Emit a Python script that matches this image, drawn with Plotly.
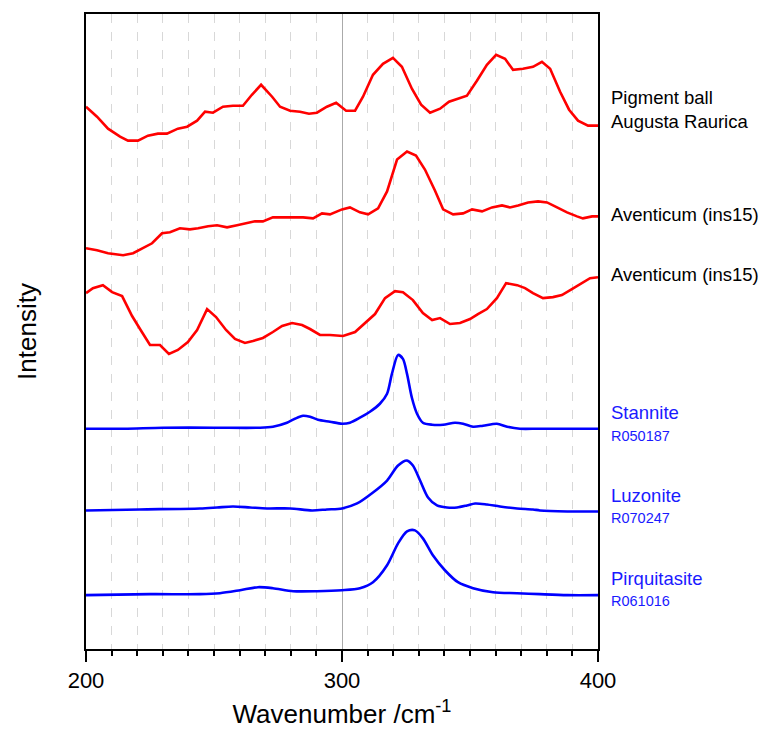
import plotly.graph_objects as go

# ---- Data (stacked intensity, arbitrary units) ----
pig_x = [200, 204.3, 208.6, 213.3, 216.4, 220.3, 224.2, 228.1, 231.6, 235.9, 239.5, 243.4, 246.5, 249.6,
         253.5, 257.4, 261.3, 264.8, 268.4, 272.7, 275.8, 279.7, 283.6, 287.1, 290.2, 294.1, 297.7, 301.6,
         305.1, 308.2, 312.1, 316.0, 319.9, 323.4, 327.3, 330.9, 334.4, 338.3, 341.8, 345.3, 348.8, 352.7,
         356.6, 360.2, 363.7, 366.8, 370.7, 374.6, 378.1, 381.3, 385.2, 388.7, 392.2, 396.1, 400]
pig_y = [544, 534, 522, 514, 510, 510, 515, 517, 517, 522, 524, 530, 539, 538,
         544, 545, 545, 556, 566, 554, 544, 540, 539, 537, 538, 544, 548, 540,
         540, 554, 576, 587, 593, 584, 562, 546, 538, 542, 549, 552, 555, 570,
         586, 596, 592, 581, 582, 584, 589, 582, 559, 541, 530, 525, 525]

av1_x = [200, 204.3, 208.6, 214.5, 218.4, 222.3, 225.8, 229.7, 232.8, 236.7, 240.6, 243.8, 247.7, 251.2,
         255.1, 259.0, 262.9, 266.0, 269.1, 273.0, 277.0, 280.9, 284.8, 288.7, 292.2, 295.3, 300, 303.1,
         307.0, 310.2, 314.1, 317.6, 321.5, 325.4, 328.9, 332.4, 336.3, 339.5, 343.4, 347.3, 350.8, 354.7,
         358.6, 362.5, 365.6, 368.8, 372.7, 376.6, 380.1, 384.0, 387.9, 391.8, 394.1, 397.7, 400]
av1_y = [402, 400, 397, 395, 397, 402, 407, 417, 418, 422, 421, 422, 424, 425,
         423, 425, 427, 429, 429, 433, 433, 433, 433, 432, 437, 436, 441, 443,
         438, 436, 442, 459, 491, 499, 495, 481, 460, 441, 436, 437, 441, 439, 443,
         445, 443, 445, 448, 449, 448, 443, 438, 434, 432, 434, 434]

av2_x = [200, 202.7, 206.6, 210.2, 214.1, 218.0, 221.1, 225.0, 228.9, 232.4, 235.9, 239.8, 243.4, 247.3,
         250.8, 254.7, 258.2, 262.1, 265.2, 269.1, 273.0, 276.6, 280.5, 284.4, 287.5, 291.4, 295.3, 300.4,
         305.1, 309.0, 312.9, 316.8, 320.7, 323.8, 327.7, 331.6, 335.2, 338.3, 342.2, 346.1, 350.0, 353.1,
         356.6, 360.5, 364.1, 368.4, 371.5, 374.6, 378.5, 382.4, 385.9, 389.8, 393.8, 396.9, 400]
av2_y = [357, 362, 365, 358, 354, 334, 321, 305, 305, 296, 300, 308, 320, 341,
         333, 320, 311, 307, 309, 312, 318, 324, 327, 325, 321, 315, 315, 314,
         318, 327, 336, 352, 359, 358, 350, 337, 330, 332, 326, 327, 331, 336,
         341, 352, 367, 365, 362, 357, 352, 353, 355, 361, 367, 372, 373]

stn_x = [200, 215, 230, 250, 268.0, 273.0, 278.5, 281.6, 284.8, 287.5, 290.6, 295.3, 300, 303.1, 307.0,
         310.9, 314.8, 317.6, 319.5, 321.9, 323.8, 325.4, 327.3, 329.3, 331.6, 335.2, 339.5, 344.1,
         347.3, 351.2, 355.1, 360.5, 364.5, 369.5, 376.6, 388, 400]
stn_y = [221, 221, 222, 222, 222, 223, 227, 231, 234, 233, 230, 228, 226, 227, 232,
         238, 246, 256, 276, 295, 291, 276, 252, 236, 227, 225, 225, 227,
         226, 223, 224, 226, 223, 221, 221, 221, 221]

luz_x = [200, 221, 244.5, 251.2, 257.4, 264.1, 270.7, 279.7, 288.3, 294.1, 300, 305.9, 312.1, 317.6,
         321.9, 325.4, 327.7, 330.5, 333.6, 337.1, 341.0, 344.9, 348.8, 352.0, 356.6, 361.7, 368.4,
         374.6, 377.3, 388, 400]
luz_y = [139, 140, 141, 142, 143, 142, 141, 141, 139, 140, 141, 146, 157, 169,
         184, 189, 184, 169, 152, 144, 142, 142, 144, 146, 145, 143, 141,
         140, 139, 138, 138]

pir_x = [200, 225, 244.5, 252.3, 260.2, 267.2, 273.0, 280.9, 290.2, 300, 307.0, 312.1, 317.6, 321.9,
         325.4, 328.5, 331.6, 335.5, 340.2, 345.3, 351.2, 359.0, 368.4, 377.3, 388, 400]
pir_y = [54, 55, 55, 56, 59, 62, 61, 58, 58, 59, 61, 67, 84, 106,
         118, 119, 111, 94, 79, 67, 61, 57, 56, 55, 54, 54]

series = [
    (pig_x, pig_y, "#ff0000", "linear"),
    (av1_x, av1_y, "#ff0000", "linear"),
    (av2_x, av2_y, "#ff0000", "linear"),
    (stn_x, stn_y, "#0000ff", "spline"),
    (luz_x, luz_y, "#0000ff", "spline"),
    (pir_x, pir_y, "#0000ff", "spline"),
]

# label texts with their vertical anchor (intensity units)
labels_black = [("Pigment ball<br>Augusta Raurica", 541), ("Aventicum (ins15)", 436), ("Aventicum (ins15)", 376)]
labels_blue = [("Stannite", "R050187", 237), ("Luzonite", "R070247", 154), ("Pirquitasite", "R061016", 71)]

fig = go.Figure()
for xs, ys, col, shape in series:
    fig.add_trace(go.Scatter(x=xs, y=ys, mode="lines",
                             line=dict(color=col, width=2.6, shape=shape, smoothing=0.8),
                             showlegend=False, hoverinfo="skip"))

FONT = "Liberation Sans, Arial, sans-serif"
for txt, yv in labels_black:
    fig.add_annotation(x=1.022, xref="paper", y=yv, yref="y", text=txt, showarrow=False,
                       xanchor="left", yanchor="middle", align="left",
                       font=dict(family=FONT, size=18.5, color="black"))
for name, code, yv in labels_blue:
    fig.add_annotation(x=1.022, xref="paper", y=yv, yref="y", text=name, showarrow=False,
                       xanchor="left", yanchor="middle", align="left",
                       font=dict(family=FONT, size=18.5, color="#1a1aff"))
    fig.add_annotation(x=1.022, xref="paper", y=yv - 23, yref="y", text=code, showarrow=False,
                       xanchor="left", yanchor="middle", align="left",
                       font=dict(family=FONT, size=14.5, color="#1a1aff"))

fig.update_layout(
    width=784, height=752,
    margin=dict(l=86, r=186, t=12, b=103),
    paper_bgcolor="white", plot_bgcolor="white",
    font=dict(family=FONT, color="black"),
    xaxis=dict(range=[200, 400], tickvals=[200, 300, 400], ticks="outside", ticklen=11, tickwidth=2,
               tickcolor="black", showline=True, linecolor="black", linewidth=2, mirror=True,
               showgrid=True, gridcolor="#aaaaaa", gridwidth=1,
               tickfont=dict(size=22, family=FONT),
               minor=dict(dtick=10, ticks="outside", ticklen=5, tickwidth=2, tickcolor="black",
                          showgrid=True, gridcolor="#d8d8d8", griddash="dash", gridwidth=1),
               title=dict(text="Wavenumber /cm<sup>-1</sup>", font=dict(size=26, family=FONT), standoff=12),
               zeroline=False),
    yaxis=dict(range=[0, 637], showticklabels=False, ticks="", showgrid=False, zeroline=False,
               showline=True, linecolor="black", linewidth=2, mirror=True,
               title=dict(text="Intensity", font=dict(size=26, family=FONT), standoff=40)),
)

fig.write_html("out.html")
